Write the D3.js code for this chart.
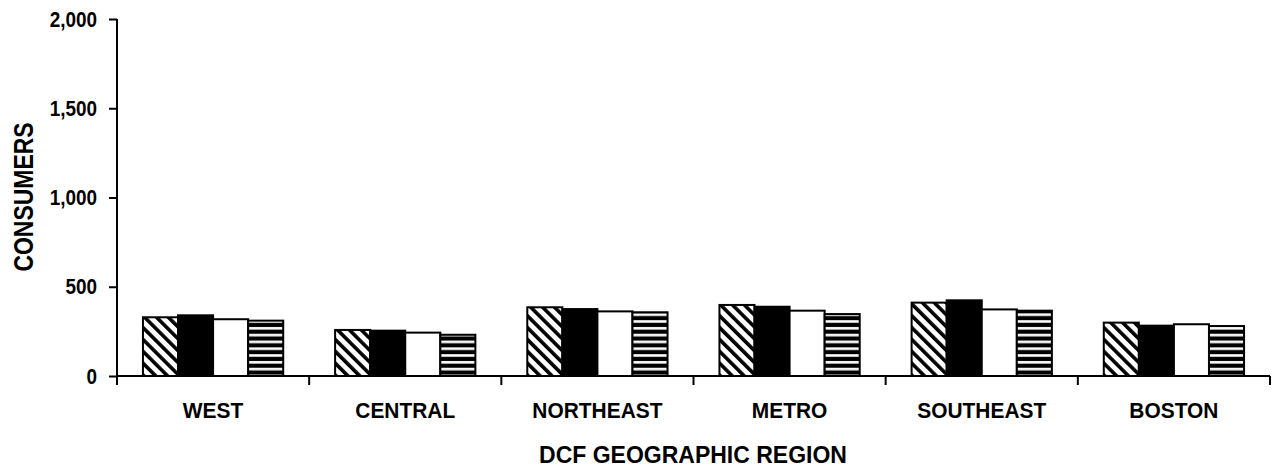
<!DOCTYPE html>
<html>
<head>
<meta charset="utf-8">
<script src="https://cdn.jsdelivr.net/npm/d3@7"></script>
<style>
  body { margin: 0; background: #fff; }
  svg { display: block; }
  .lbl { font-family: "Liberation Sans", Arial, sans-serif; font-weight: bold; }
</style>
</head>
<body>
<div id="chart"></div>
<script>
const regions = ["WEST", "CENTRAL", "NORTHEAST", "METRO", "SOUTHEAST", "BOSTON"];
const seriesNames = ["s1", "s2", "s3", "s4"];
const s1 = [329, 258, 385, 398, 411, 299];
const s2 = [340, 254, 375, 388, 424, 282];
const s3 = [318, 243, 362, 366, 373, 290];
const s4 = [310, 231, 357, 347, 366, 280];
const yTicks = [0, 500, 1000, 1500, 2000];

const allSeries = [s1, s2, s3, s4];
const fills = ["url(#diag)", "#000", "#fff", "url(#horiz)"];

const margin = {top: 19, right: 10, bottom: 94, left: 117},
    width = 1270 - margin.left,
    height = 376 - margin.top;

// the original lettering is a condensed face, so squeeze Liberation Sans a bit
const squeeze = 0.86;

const root = d3.select("#chart")
    .append("svg")
    .attr("width", 1280)
    .attr("height", 470);

const defs = root.append("defs");
const diag = defs.append("pattern")
    .attr("id", "diag")
    .attr("patternUnits", "userSpaceOnUse")
    .attr("width", 8.4)
    .attr("height", 8.4)
    .attr("patternTransform", "rotate(-45)");
diag.append("rect").attr("width", 8.4).attr("height", 8.4).attr("fill", "#fff");
diag.append("rect").attr("x", 0).attr("width", 3.6).attr("height", 8.4).attr("fill", "#000");

const horiz = defs.append("pattern")
    .attr("id", "horiz")
    .attr("patternUnits", "userSpaceOnUse")
    .attr("width", 10)
    .attr("height", 6.8);
horiz.append("rect").attr("width", 10).attr("height", 6.8).attr("fill", "#000");
horiz.append("rect").attr("y", 2).attr("width", 10).attr("height", 2.6).attr("fill", "#fff");

const svg = root.append("g")
    .attr("transform", `translate(${margin.left}, ${margin.top})`);

const x0 = d3.scaleBand()
    .domain(regions)
    .range([0, width]);

const x1 = d3.scaleBand()
    .domain(seriesNames)
    .range([0, x0.bandwidth()])
    .paddingOuter(0.74);

const y = d3.scaleLinear()
    .domain([0, 2000])
    .range([height, 0]);

// bars
const groups = svg.selectAll("g.region")
    .data(regions)
    .enter()
    .append("g")
    .attr("class", "region")
    .attr("transform", d => `translate(${x0(d)}, 0)`);

groups.selectAll("rect")
    .data((d, i) => seriesNames.map((s, j) => ({s: s, j: j, v: allSeries[j][i]})))
    .enter()
    .append("rect")
    .attr("x", d => x1(d.s))
    .attr("y", d => y(d.v))
    .attr("width", x1.bandwidth())
    .attr("height", d => height - y(d.v))
    .attr("fill", d => fills[d.j])
    .attr("stroke", "#000")
    .attr("stroke-width", 2);

// y axis
const yAxis = svg.append("g")
    .call(d3.axisLeft(y).tickValues(yTicks).tickFormat(d3.format(",")).tickSize(8).tickPadding(12));
yAxis.select(".domain").attr("stroke-width", 2).attr("d", `M0,0V${height}`);
yAxis.selectAll(".tick line").attr("stroke-width", 2);
yAxis.selectAll("text")
    .attr("class", "lbl")
    .attr("x", -20 / squeeze)
    .attr("transform", `scale(${squeeze},1)`)
    .style("font-size", "22px")
    .attr("fill", "#000");

// x axis with ticks at band edges
const xAxis = svg.append("g")
    .attr("transform", `translate(0, ${height})`);
xAxis.append("line")
    .attr("x1", 0).attr("x2", width)
    .attr("stroke", "#000").attr("stroke-width", 2);
xAxis.selectAll("line.tick")
    .data(regions.concat(["end"]))
    .enter()
    .append("line")
    .attr("class", "tick")
    .attr("x1", (d, i) => i * x0.step())
    .attr("x2", (d, i) => i * x0.step())
    .attr("y1", 0).attr("y2", 9)
    .attr("stroke", "#000").attr("stroke-width", 2);
xAxis.selectAll("text")
    .data(regions)
    .enter()
    .append("text")
    .attr("class", "lbl")
    .attr("transform", d => `translate(${x0(d) + x0.bandwidth() / 2}, 42) scale(0.93,1)`)
    .attr("text-anchor", "middle")
    .style("font-size", "22.5px")
    .text(d => d);

// axis titles
root.append("text")
    .attr("class", "lbl")
    .attr("x", 693)
    .attr("y", 463)
    .attr("text-anchor", "middle")
    .style("font-size", "23px")
    .text("DCF GEOGRAPHIC REGION");

root.append("text")
    .attr("class", "lbl")
    .attr("transform", "translate(33, 197) rotate(-90) scale(0.82,1)")
    .attr("text-anchor", "middle")
    .style("font-size", "28px")
    .text("CONSUMERS");
</script>
</body>
</html>
